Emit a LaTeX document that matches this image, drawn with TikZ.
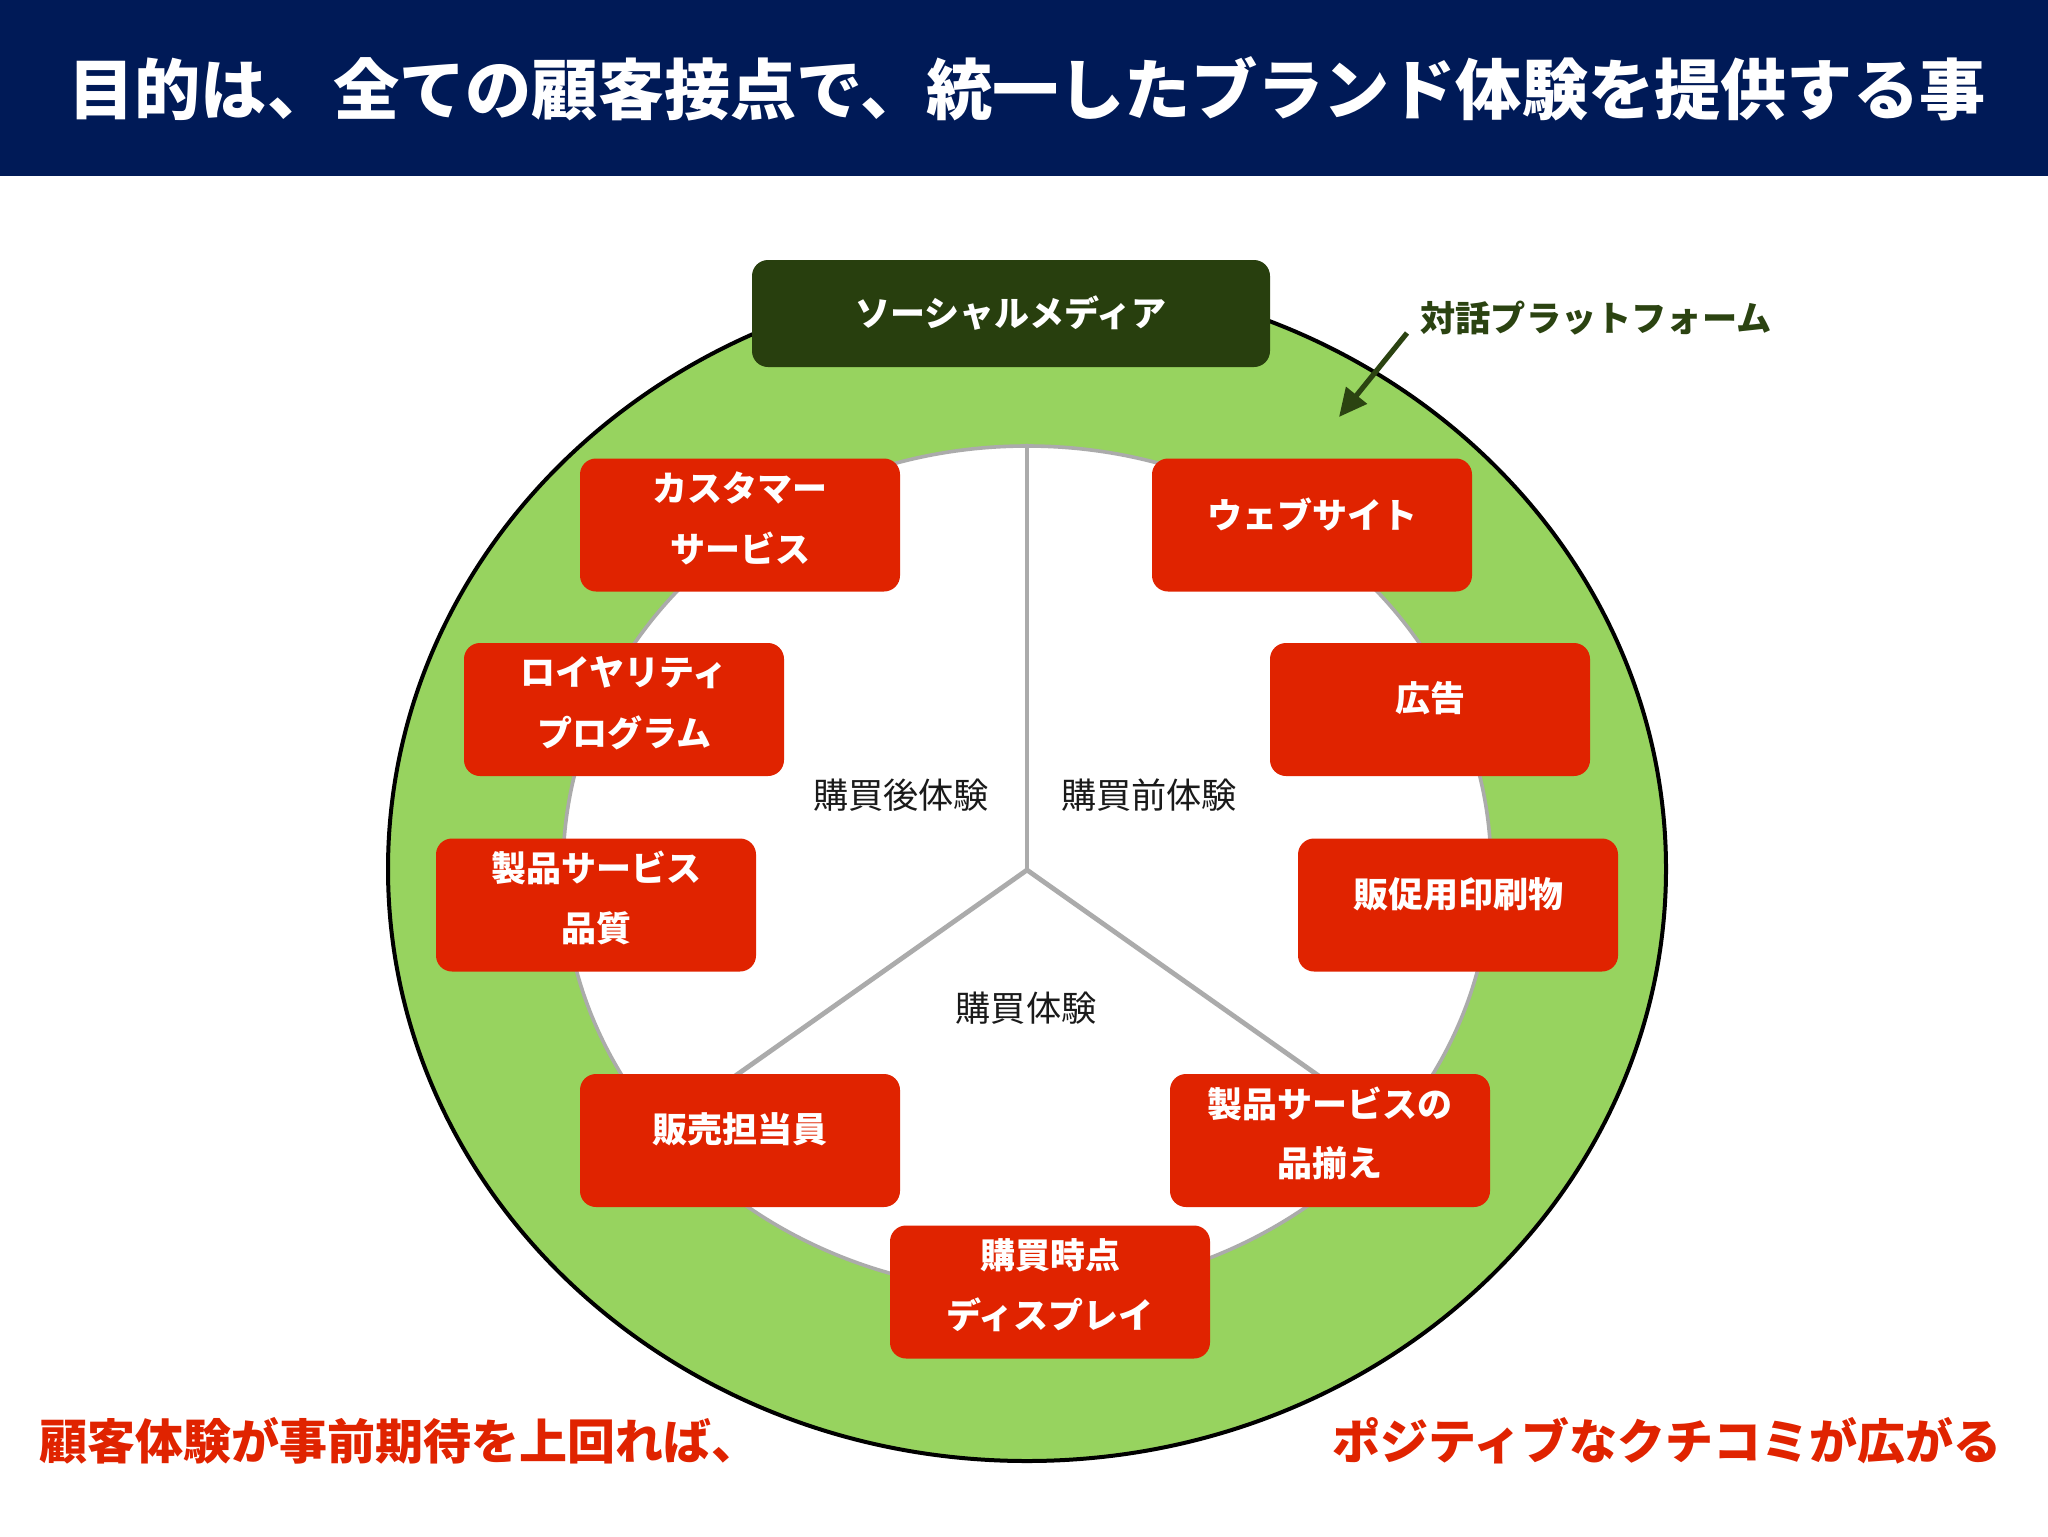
\documentclass[tikz,border=0pt]{standalone}
\usepackage{fontspec}
\newfontfamily\jp{Noto Sans CJK JP}
\usetikzlibrary{arrows.meta}
\definecolor{navy}{HTML}{001A57}
\definecolor{ringgreen}{HTML}{97D35F}
\definecolor{boxred}{HTML}{E02300}
\definecolor{darkgreen}{HTML}{283F0E}
\definecolor{labelgreen}{HTML}{2B4311}
\definecolor{spokegray}{HTML}{ABABAB}
\definecolor{hubtext}{HTML}{1A1A1A}
\tikzset{
  rbox/.style={draw=none, fill=boxred, rounded corners=8pt, minimum width=160pt, minimum height=66.5pt, inner sep=0pt},
  gbox/.style={draw=none, fill=darkgreen, rounded corners=8pt, minimum width=259pt, minimum height=53.5pt, inner sep=0pt},
  btext/.style={inner sep=0pt, text=white, font=\jp\bfseries\fontsize{17.5pt}{21pt}\selectfont},
  hubtxt/.style={inner sep=0pt, text=hubtext, font=\jp\fontsize{17.6pt}{21pt}\selectfont},
  titletxt/.style={inner sep=0pt, text=white, font=\jp\bfseries\fontsize{33.1pt}{40pt}\selectfont},
  bottomtxt/.style={inner sep=0pt, text=boxred, font=\jp\bfseries\fontsize{24pt}{28pt}\selectfont},
  talklabel/.style={inner sep=0pt, text=labelgreen, font=\jp\bfseries\fontsize{17.6pt}{21pt}\selectfont},
  spoke/.style={draw=spokegray, line width=2.4pt, line cap=round, line join=round},
}
\begin{document}
\begin{tikzpicture}[x=0.5pt,y=-0.5pt]
\useasboundingbox (0,0) rectangle (2048,1536);
\fill[white] (0,0) rectangle (2048,1536);
% header
\fill[navy] (0,0) rectangle (2048,176);
\node[titletxt] (title) at (1027,89) {目的は、全ての顧客接点で、統一したブランド体験を提供する事};
% rings
\draw[black, line width=2pt, fill=ringgreen] (1027,869) ellipse [x radius=639, y radius=592];
\draw[spokegray, line width=1.8pt, fill=white] (1027,869) ellipse [x radius=464, y radius=423];
% spokes
\coordinate (hub) at (1027,870);
\coordinate (sp1) at (1027,446);
\coordinate (sp2) at (660,1129);
\coordinate (sp3) at (1394,1129);
\draw[spoke] (hub) -- (sp1);
\draw[spoke] (hub) -- (sp2);
\draw[spoke] (hub) -- (sp3);
% hub labels
\node[hubtxt] (after) at (901,795) {購買後体験};
\node[hubtxt] (before) at (1149,795) {購買前体験};
\node[hubtxt] (during) at (1026,1008) {購買体験};
% social media
\node[gbox] (sm) at (1011,313.5) {};
\node[btext] (smt) at (1011,313.5) {ソーシャルメディア};
% red boxes
\node[rbox] (cs) at (740,525) {};
\node[btext] (cs1) at ([yshift=18.5pt]cs.center) {カスタマー};
\node[btext] (cs2) at ([yshift=-11.5pt]cs.center) {サービス};
\node[rbox] (web) at (1312,525) {};
\node[btext] (web1) at ([yshift=5.5pt]web.center) {ウェブサイト};
\node[rbox] (loy) at (624,709.5) {};
\node[btext] (loy1) at ([yshift=18.5pt]loy.center) {ロイヤリティ};
\node[btext] (loy2) at ([yshift=-11.5pt]loy.center) {プログラム};
\node[rbox] (ad) at (1430,709.5) {};
\node[btext] (ad1) at ([yshift=5.5pt]ad.center) {広告};
\node[rbox] (qual) at (596,905) {};
\node[btext] (qual1) at ([yshift=18.5pt]qual.center) {製品サービス};
\node[btext] (qual2) at ([yshift=-11.5pt]qual.center) {品質};
\node[rbox] (print) at (1458,905) {};
\node[btext] (print1) at ([yshift=5.5pt]print.center) {販促用印刷物};
\node[rbox] (sales) at (740,1140.5) {};
\node[btext] (sales1) at ([yshift=5.5pt]sales.center) {販売担当員};
\node[rbox] (assort) at (1330,1140.5) {};
\node[btext] (assort1) at ([yshift=18.5pt]assort.center) {製品サービスの};
\node[btext] (assort2) at ([yshift=-11.5pt]assort.center) {品揃え};
\node[rbox] (pop) at (1050,1292) {};
\node[btext] (pop1) at ([yshift=18.5pt]pop.center) {購買時点};
\node[btext] (pop2) at ([yshift=-11.5pt]pop.center) {ディスプレイ};
% talk platform label and arrow
\node[talklabel, anchor=west] (talk) at (1420,318) {対話プラットフォーム};
\coordinate (atail) at (1407,333);
\coordinate (ahead) at (1339,417);
\draw[labelgreen, line width=2.6pt, -{Triangle[length=14pt,width=13pt]}] (atail) -- (ahead);
% bottom texts
\node[bottomtxt, anchor=west] (bl) at (39,1441) {顧客体験が事前期待を上回れば、};
\node[bottomtxt, anchor=east] (br) at (2002,1441) {ポジティブなクチコミが広がる};
\end{tikzpicture}
\end{document}
